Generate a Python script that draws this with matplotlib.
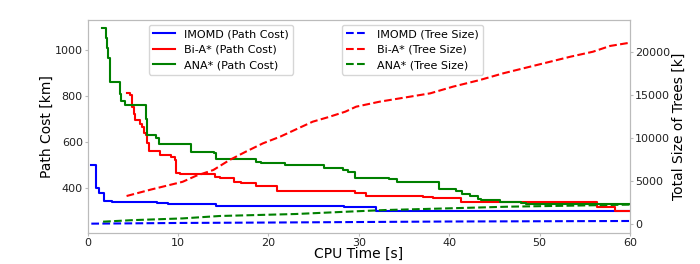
import matplotlib
matplotlib.use('Agg')
import matplotlib.pyplot as plt

# path cost over CPU time (step curves)
imomd_t = [0.41, 0.89, 1.22, 1.8, 2.73, 7.72, 8.89, 14.17, 28.37, 31.9, 60]
imomd_cost = [503, 400, 378, 345, 339, 335, 330, 322, 317, 302, 302]

bia_t = [4.35, 4.73, 4.95, 5.09, 5.2, 5.76, 6.01, 6.2, 6.5, 6.59, 6.79, 7.97, 9.19, 9.63, 9.82,
         10.2, 14.06, 14.61, 16.2, 17.0, 18.6, 20.96, 29.56, 30.78, 37.12, 38.16, 41.26,
         56.3, 58.3, 60]
bia_cost = [812, 805, 751, 722, 696, 680, 667, 641, 631, 595, 563, 544, 534, 522, 467,
            462, 450, 443, 429, 422, 410, 390, 381, 368, 363, 356, 341,
            318, 303, 303]

ana_t = [1.58, 1.99, 2.14, 2.25, 2.51, 3.54, 3.73, 4.10, 6.42, 6.6, 7.6, 7.86, 11.48, 13.98,
         14.17, 18.6, 19.15, 21.8, 26.16, 28.26, 28.8, 29.56, 33.36, 34.24, 38.86, 40.71,
         41.37, 42.29, 43.14, 43.5, 45.6, 47.94, 48.5, 60]
ana_cost = [1094, 1051, 1007, 964, 862, 809, 779, 761, 700, 631, 620, 591, 558, 552,
            526, 514, 510, 500, 488, 480, 469, 446, 439, 427, 397, 390,
            375, 365, 354, 348, 339, 334, 330, 330]

# total size of trees [k]
imomd_tree_t = [0.4, 10, 20, 30, 40, 50, 60]
imomd_tree = [40, 120, 170, 230, 290, 320, 350]

bia_tree_t = [4.3, 7.0, 10.5, 12.0, 13.9, 15.7, 17.5, 19.4, 21.3, 23.3, 24.9, 26.6, 28.5,
              29.7, 32.3, 37.9, 40.4, 43.4, 46.0, 49.7, 53.4, 55.9, 57.8, 60]
bia_tree = [3250, 4000, 4900, 5600, 6270, 7430, 8400, 9370, 10140, 11110, 11880, 12400, 13040,
            13620, 14200, 15170, 15940, 16720, 17500, 18460, 19420, 20000, 20670, 21050]

ana_tree_t = [1.7, 5, 10.5, 14.6, 23.0, 28.7, 33.0, 40.0, 46.5, 53, 60]
ana_tree = [270, 450, 650, 930, 1160, 1430, 1625, 1820, 2010, 2120, 2250]

spine_col = '#bbbbbb'

fig = plt.figure(figsize=(7, 2.64), dpi=100)
ax1 = fig.add_axes([0.1253, 0.1174, 0.7747, 0.8087])
ax2 = ax1.twinx()

ax1.plot(imomd_t, imomd_cost, color='blue', lw=1.5, drawstyle='steps-post', label='IMOMD (Path Cost)')
ax1.plot(bia_t, bia_cost, color='red', lw=1.5, drawstyle='steps-post', label='Bi-A* (Path Cost)')
ax1.plot(ana_t, ana_cost, color='green', lw=1.5, drawstyle='steps-post', label='ANA* (Path Cost)')

ax2.plot(imomd_tree_t, imomd_tree, color='blue', lw=1.5, ls='--', label='IMOMD (Tree Size)')
ax2.plot(bia_tree_t, bia_tree, color='red', lw=1.5, ls='--', label='Bi-A* (Tree Size)')
ax2.plot(ana_tree_t, ana_tree, color='green', lw=1.5, ls='--', label='ANA* (Tree Size)')

ax1.set_xlim(0, 60)
ax1.set_ylim(206, 1132)
ax2.set_ylim(-1045, 23740)
ax1.set_yticks([400, 600, 800, 1000])
ax2.set_yticks([0, 5000, 10000, 15000, 20000])

ax1.set_xlabel('CPU Time [s]', fontsize=10, labelpad=-1)
ax1.set_ylabel('Path Cost [km]', fontsize=10, labelpad=1)
ax2.set_ylabel('Total Size of Trees [k]', fontsize=10, labelpad=1)

for ax in (ax1, ax2):
    for s in ax.spines.values():
        s.set_color(spine_col)
    ax.tick_params(labelsize=8, length=2.5, color=spine_col, labelcolor='#222222', pad=1)

ax1.legend(loc='upper left', bbox_to_anchor=(0.1125, 0.976), fontsize=8,
           borderaxespad=0, framealpha=0.8)
ax2.legend(loc='upper left', bbox_to_anchor=(0.468, 0.976), fontsize=8,
           borderaxespad=0, framealpha=0.8)

fig.savefig('out.png', dpi=100)
